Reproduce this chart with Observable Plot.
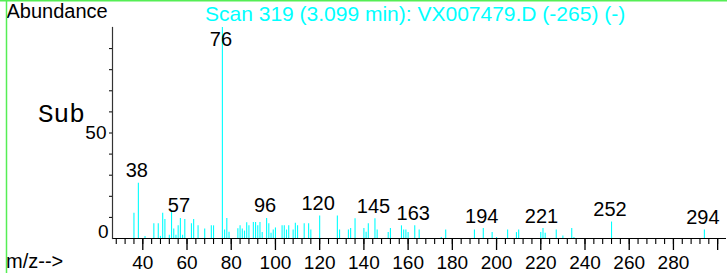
<!DOCTYPE html>
<html><head><meta charset="utf-8">
<script src="https://cdn.jsdelivr.net/npm/d3@7"></script>
<script src="https://cdn.jsdelivr.net/npm/@observablehq/plot@0.6"></script>
<style>
html,body{margin:0;padding:0;background:#fff;}
#chart{position:relative;width:727px;height:273px;overflow:hidden;}
</style></head><body><div id="chart"></div>
<script>
// m/z values of the spectrum lines
const peakMz = [36, 38, 41, 45, 47, 48, 49, 50, 52, 53, 54, 55, 56, 57, 58, 59, 62, 63, 65, 68, 71, 72,
  76, 77, 78, 79, 83, 84, 85, 86, 87, 88, 90, 91, 92, 93, 94, 96, 97, 98, 99, 100, 103, 104, 105, 106,
  108, 109, 110, 113, 115, 116, 120, 128, 129, 133, 134, 136, 140, 141, 142, 145, 146, 151, 152, 157,
  158, 159, 160, 163, 165, 175, 177, 190, 194, 198, 200, 205, 209, 210, 220, 221, 222, 227, 230, 234,
  235, 252, 294];
// relative abundance (%) of each line
const peakAbundance = [12, 26.2, 1, 7, 7, 1, 12, 9, 1.5, 12.5, 4.5, 1.5, 6, 9.5, 1.5, 9, 7, 9, 6, 4.5, 6, 6,
  100, 4, 9.5, 3, 4.6, 6, 4.5, 3.5, 7.5, 6, 7.6, 7.6, 6, 7.6, 2.8, 9.5, 7, 2.5, 4, 5, 6, 6, 4, 6,
  4, 7.2, 6, 7, 7, 4, 10.7, 10.7, 4, 4, 4.7, 9.4, 4.7, 3, 7, 9.4, 4, 2.8, 4.7, 6,
  4, 4, 2.8, 6, 4, 0.5, 4, 4, 4.7, 2.8, 0.5, 4, 2.8, 4, 2.8, 4.7, 2.5, 4, 1.2, 4.7,
  0.5, 7.8, 4];
// labelled peaks
const labelMz = [38, 57, 76, 96, 120, 145, 163, 194, 221, 252, 294];
// axis ticks
const xMajorTicks = [40, 60, 80, 100, 120, 140, 160, 180, 200, 220, 240, 260, 280, 300];
const xMajorLabels = ["40", "60", "80", "100", "120", "140", "160", "180", "200", "220", "240", "260", "280", ""];
const xMinorTicks = d3.range(28, 301, 4);
const yMinorTicks = [10, 20, 30, 40, 50, 60, 70, 80, 90];
const yLabelTicks = [0, 50];

const titleText = "Scan 319 (3.099 min): VX007479.D (-265) (-)";
const yTitle = "Abundance";
const xTitle = "m/z-->";
const subText = "Sub";

const peaks = peakMz.map((mz, i) => ({mz, ab: peakAbundance[i]}));
const labels = labelMz.map(mz => ({mz, ab: peaks.find(p => p.mz === mz).ab, text: String(mz)}));
const sans = "'Liberation Sans', Arial, sans-serif";
const cyan = "#00ffff";

const plot = Plot.plot({
  width: 727, height: 273,
  marginLeft: 112, marginRight: 1, marginTop: 27, marginBottom: 35,
  style: {fontFamily: sans, background: "#fff", color: "#000"},
  x: {domain: [26.3, 304], axis: null},
  y: {domain: [0, 100], axis: null},
  marks: [
    Plot.ruleX(peaks, {x: "mz", y1: 0, y2: "ab", stroke: cyan, strokeWidth: 1.1}),
    Plot.ruleY([0], {stroke: "#000", strokeWidth: 1}),
    Plot.frame({anchor: "left", stroke: "#333", strokeWidth: 1.2}),
    Plot.axisX({ticks: xMinorTicks, tickSize: 6, tickFormat: () => "", label: null, strokeWidth: 1.1}),
    Plot.axisX({ticks: xMajorTicks, tickSize: 12, tickPadding: 5, label: null, strokeWidth: 1.3,
      tickFormat: d => xMajorLabels[xMajorTicks.indexOf(d)], fontSize: 19}),
    Plot.axisY({ticks: yMinorTicks, tickSize: 3, tickFormat: () => "", label: null}),
    Plot.axisY({ticks: [yLabelTicks[1]], tickSize: 0, tickPadding: 6, label: null, fontSize: 19}),
    Plot.axisY({ticks: [yLabelTicks[0]], tickSize: 0, tickPadding: 4, dy: -7, label: null, fontSize: 19}),
    Plot.text(labels, {x: "mz", y: d => Math.min(d.ab, 88.6), text: "text", dx: -1.5, dy: -12.4,
      fontSize: 20, fill: "#000"})
  ]
});
document.getElementById("chart").appendChild(plot);

const svg = d3.select(plot);
function addText(x, y, size, fill, family, str) {
  svg.append("text").attr("x", x).attr("y", y)
    .style("font-size", size + "px").style("fill", fill).style("font-family", family)
    .style("text-anchor", "start").attr("text-anchor", "start").text(str);
}
addText(6.5, 18.3, 20, "#000", sans, yTitle);
addText(205, 21, 21, cyan, sans, titleText);
addText(6, 268.3, 20, "#000", sans, xTitle);
addText(38, 121.7, 26, "#000", "'Courier New', 'Liberation Mono', monospace", subText);
// green frame (left and top)
svg.append("line").attr("x1", 6.5).attr("x2", 6.5).attr("y1", 0).attr("y2", 273)
  .attr("stroke", "#55ee55").attr("stroke-width", 1.5);
svg.append("line").attr("x1", 0).attr("x2", 727).attr("y1", 0.75).attr("y2", 0.75)
  .attr("stroke", "#55ee55").attr("stroke-width", 1.5);
</script></body></html>
